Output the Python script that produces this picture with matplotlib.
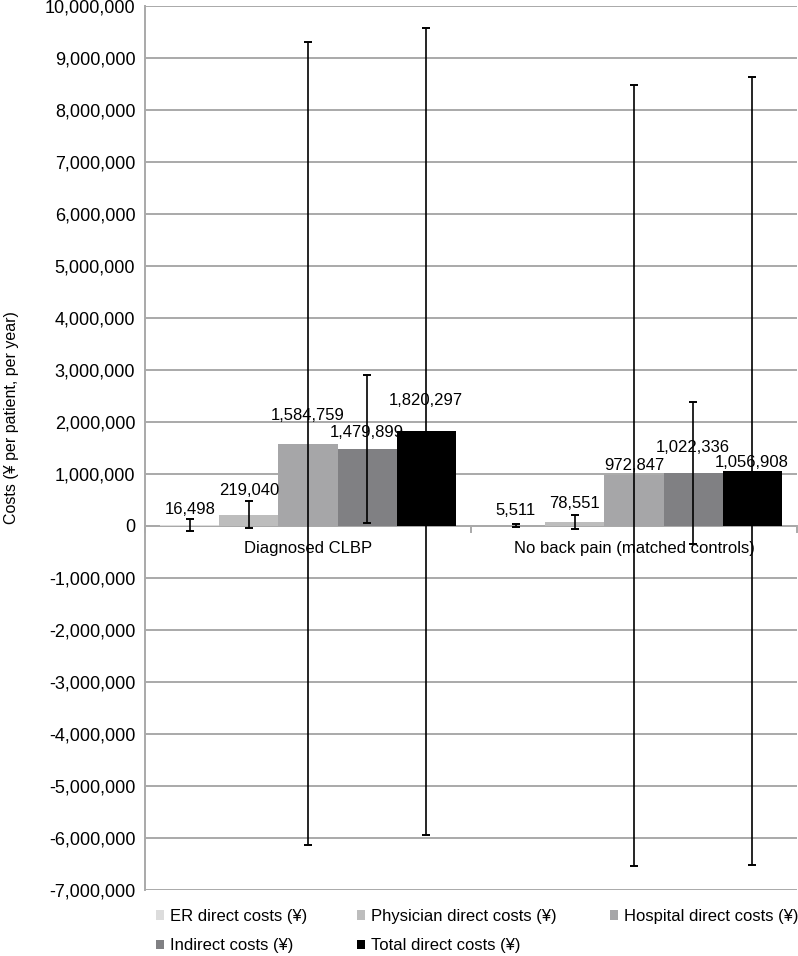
import numpy as np
import matplotlib
matplotlib.use("Agg")
import matplotlib.pyplot as plt
from matplotlib.ticker import FuncFormatter

plt.rcParams['font.family'] = ['Liberation Sans', 'DejaVu Sans']

groups = ["Diagnosed CLBP", "No back pain (matched controls)"]
series = ["ER direct costs (¥)", "Physician direct costs (¥)", "Hospital direct costs (¥)",
          "Indirect costs (¥)", "Total direct costs (¥)"]
colors = ["#dcdcdc", "#bdbdbd", "#a6a6a8", "#808083", "#000000"]

# mean costs per group (CLBP, controls)
er_cost = [16498, 5511]
physician_cost = [219040, 78551]
hospital_cost = [1584759, 972847]
indirect_cost = [1479899, 1022336]
total_cost = [1820297, 1056908]

# error bar half widths
er_err = [115000, 30000]
physician_err = [260000, 135000]
hospital_err = [7715000, 7510000]
indirect_err = [1430000, 1360000]
total_err = [7760000, 7570000]

values = [er_cost, physician_cost, hospital_cost, indirect_cost, total_cost]
errors = [er_err, physician_err, hospital_err, indirect_err, total_err]

# label baseline offset above bar top, in points
label_offsets = [[8, 8], [14, 10], [17, 4], [9, 15], [19, 3]]

fig = plt.figure(figsize=(7.98, 9.56), dpi=100)
ax = fig.add_axes([145 / 798, 1 - 890 / 956, 652 / 798, 884 / 956])

x = np.arange(len(groups))
w = 1 / (5 + 0.525)
grid_c = "#a9a9a9"

bars = []
for i, (vals, errs) in enumerate(zip(values, errors)):
    pos = x + (i - 2) * w
    b = ax.bar(pos, vals, width=w, color=colors[i], label=series[i], zorder=2)
    bars.append(b)
    for j, v in enumerate(vals):
        ax.annotate(f"{v:,}", (pos[j], v), xytext=(0, label_offsets[i][j]),
                    textcoords="offset points", ha="center", va="baseline",
                    fontsize=12, zorder=3)
    ax.errorbar(pos, vals, yerr=errs, fmt="none", ecolor="black", elinewidth=1.2,
                capsize=3, capthick=1.4, zorder=4)

ax.set_ylim(-7000000, 10000000)
ax.set_xlim(-0.5, 1.5)
ax.set_yticks(np.arange(-7000000, 10000001, 1000000))
ax.yaxis.set_major_formatter(FuncFormatter(lambda v, p: f"{int(v):,}"))
ax.tick_params(axis="y", length=0, labelsize=13, pad=7)
ax.grid(axis="y", color=grid_c, linewidth=1.4, zorder=0)
ax.set_axisbelow(True)

for s in ["top", "right", "bottom"]:
    ax.spines[s].set_visible(False)
ax.spines["left"].set_color(grid_c)
ax.spines["left"].set_linewidth(1.4)

# category axis at zero
ax.axhline(0, color=grid_c, linewidth=1.4, zorder=1)
ax.set_xticks([])
for t in [-0.5, 0.5, 1.5]:
    ax.plot([t, t], [0, -110000], color=grid_c, linewidth=1.4, clip_on=False, zorder=1)
for xi, g in zip(x, groups):
    ax.annotate(g, (xi, 0), xytext=(0, -16), textcoords="offset points",
                ha="center", va="center", fontsize=12)

fig.text(12 / 798, 1 - 418 / 956, "Costs (¥ per patient, per year)", rotation=90,
         ha="center", va="center", fontsize=11.5)

# legend: three columns placed like the original
cols = [[0, 3], [1, 4], [2]]
col_x = [156 / 798, 357 / 798, 610 / 798]
for cx, idx in zip(col_x, cols):
    fig.legend([bars[k] for k in idx], [series[k] for k in idx],
               loc="upper left", bbox_to_anchor=(cx, 1 - 909 / 956),
               frameon=False, fontsize=12, handlelength=0.5, handleheight=0.5,
               handletextpad=0.35, labelspacing=0.85, borderaxespad=0, borderpad=0)

fig.savefig("out.png", dpi=100)
